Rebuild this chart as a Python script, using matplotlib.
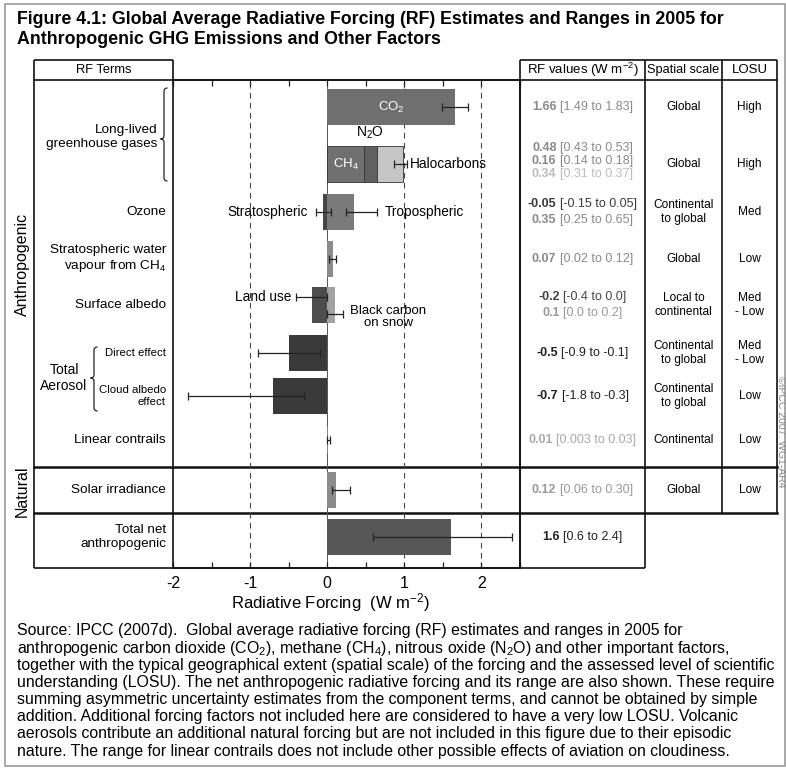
import matplotlib
matplotlib.use('Agg')
import matplotlib.pyplot as plt
from matplotlib.path import Path
from matplotlib.patches import PathPatch, Rectangle
import numpy as np

plt.rcParams['font.family'] = ['Liberation Sans', 'DejaVu Sans']
plt.rcParams['mathtext.fontset'] = 'custom'
plt.rcParams['mathtext.rm'] = 'Liberation Sans'
plt.rcParams['mathtext.it'] = 'Liberation Sans:italic'
plt.rcParams['mathtext.bf'] = 'Liberation Sans:bold'

# ---------------- data ----------------
row_terms = ['Long-lived\ngreenhouse gases', 'Ozone', 'Stratospheric water\nvapour from CH$_4$',
             'Surface albedo', 'Direct effect', 'Cloud albedo\neffect', 'Linear contrails',
             'Solar irradiance', 'Total net\nanthropogenic']

co2_value = 1.66
co2_range = [1.49, 1.83]
ghg_names = ['CH$_4$', 'N$_2$O', 'Halocarbons']
ghg_values = [0.48, 0.16, 0.34]
ghg_stack_range = [0.87, 1.04]
ozone_names = ['Stratospheric', 'Tropospheric']
ozone_values = [-0.05, 0.35]
ozone_low = [-0.15, 0.25]
ozone_high = [0.05, 0.65]
h2o_value = 0.07
h2o_range = [0.02, 0.12]
albedo_names = ['Land use', 'Black carbon\non snow']
albedo_values = [-0.2, 0.1]
albedo_low = [-0.4, 0.0]
albedo_high = [0.0, 0.2]
aerosol_values = [-0.5, -0.7]
aerosol_low = [-0.9, -1.8]
aerosol_high = [-0.1, -0.3]
contrail_value = 0.01
contrail_range = [0.003, 0.03]
solar_value = 0.12
solar_range = [0.06, 0.30]
total_value = 1.6
total_range = [0.6, 2.4]

rf_best_text = [['1.66'], ['0.48', '0.16', '0.34'], ['-0.05', '0.35'], ['0.07'], ['-0.2', '0.1'],
                ['-0.5'], ['-0.7'], ['0.01'], ['0.12'], ['1.6']]
rf_range_text = [['[1.49 to 1.83]'], ['[0.43 to 0.53]', '[0.14 to 0.18]', '[0.31 to 0.37]'],
                 ['[-0.15 to 0.05]', '[0.25 to 0.65]'], ['[0.02 to 0.12]'],
                 ['[-0.4 to 0.0]', '[0.0 to 0.2]'], ['[-0.9 to -0.1]'], ['[-1.8 to -0.3]'],
                 ['[0.003 to 0.03]'], ['[0.06 to 0.30]'], ['[0.6 to 2.4]']]
rf_text_colors = [['#8a8a8a'], ['#8a8a8a', '#8a8a8a', '#bdbdbd'], ['#3a3a3a', '#8a8a8a'],
                  ['#8a8a8a'], ['#444444', '#999999'], ['#222222'], ['#222222'],
                  ['#aaaaaa'], ['#999999'], ['#222222']]
# one entry per table row: CO2, other LLGHG, ozone, H2O, albedo, direct, cloud, contrails, solar
spatial_scale = ['Global', 'Global', 'Continental\nto global', 'Global', 'Local to\ncontinental',
                 'Continental\nto global', 'Continental\nto global', 'Continental', 'Global']
losu = ['High', 'High', 'Med', 'Low', 'Med\n- Low', 'Med\n- Low', 'Low', 'Low', 'Low']
x_ticks = [-2, -1, 0, 1, 2]

title_lines = ['Figure 4.1: Global Average Radiative Forcing (RF) Estimates and Ranges in 2005 for',
               'Anthropogenic GHG Emissions and Other Factors']
caption = [
    'Source: IPCC (2007d).  Global average radiative forcing (RF) estimates and ranges in 2005 for',
    'anthropogenic carbon dioxide (CO$_2$), methane (CH$_4$), nitrous oxide (N$_2$O) and other important factors,',
    'together with the typical geographical extent (spatial scale) of the forcing and the assessed level of scientific',
    'understanding (LOSU). The net anthropogenic radiative forcing and its range are also shown. These require',
    'summing asymmetric uncertainty estimates from the component terms, and cannot be obtained by simple',
    'addition. Additional forcing factors not included here are considered to have a very low LOSU. Volcanic',
    'aerosols contribute an additional natural forcing but are not included in this figure due to their episodic',
    'nature. The range for linear contrails does not include other possible effects of aviation on cloudiness.',
]

# ---------------- layout (pixels) ----------------
W, H = 786, 769
row_y = [107, 164, 212, 259, 305, 353, 396, 440, 490, 537]   # CO2 row + 9 term rows
bar_h = 36
X_TERMS_L, X_PLOT_L, X_PLOT_R = 34, 173, 520
X_COL2, X_COL3, X_TAB_R = 645, 722, 777
Y_HEAD_T, Y_HEAD_B, Y_NAT, Y_TOT, Y_BOT = 60, 80, 467, 513, 568

fig = plt.figure(figsize=(W / 100, H / 100), dpi=100)
fig.patch.set_facecolor('white')

ov = fig.add_axes([0, 0, 1, 1], zorder=0)
ov.set_xlim(0, W)
ov.set_ylim(H, 0)
ov.axis('off')

ax = fig.add_axes([X_PLOT_L / W, 1 - Y_BOT / H, (X_PLOT_R - X_PLOT_L) / W, (Y_BOT - Y_HEAD_B) / H], zorder=2)
ax.set_facecolor('none')
ax.set_xlim(-2, 2.5)
ax.set_ylim(Y_BOT, Y_HEAD_B)

# grid lines
for xv in [-1, 1, 2]:
    ax.axvline(xv, color='#444444', lw=0.8, ls=(0, (5, 4)), zorder=1)
ax.axvline(0, color='#555555', lw=0.7, zorder=1)

ek = dict(fmt='none', ecolor='#222222', elinewidth=0.9, capsize=3, capthick=0.9, zorder=5)
lab_fs = 9.8


def err(y, v, lo, hi):
    ax.errorbar([v], [y], xerr=[[v - lo], [hi - v]], **ek)


# CO2
ax.barh(row_y[0], co2_value, height=bar_h, color='#6f6f6f', zorder=3)
err(row_y[0], co2_value, *co2_range)
ax.text(co2_value / 2, row_y[0], 'CO$_2$', color='white', ha='center', va='center', fontsize=9.5, zorder=6)

# CH4 / N2O / halocarbons stacked
ghg_colors = ['#707070', '#606060', '#c6c6c6']
lefts = np.concatenate([[0], np.cumsum(ghg_values)[:-1]])
ax.barh([row_y[1]] * 3, ghg_values, left=lefts, height=bar_h, color=ghg_colors,
        edgecolor='#333333', linewidth=0.6, zorder=3)
stack_total = float(np.sum(ghg_values))
err(row_y[1], stack_total, *ghg_stack_range)
ax.text(ghg_values[0] / 2, row_y[1], ghg_names[0], color='white', ha='center', va='center', fontsize=9.5, zorder=6)
ax.text(lefts[1] + ghg_values[1] / 2, row_y[1] - 31, ghg_names[1], color='black', ha='center', va='center', fontsize=10)
ax.text(ghg_stack_range[1] + 0.03, row_y[1], ghg_names[2], ha='left', va='center', fontsize=lab_fs)

# ozone
ax.barh([row_y[2]] * 2, ozone_values, height=bar_h, color=['#474747', '#7a7a7a'], zorder=3)
for v, lo, hi in zip(ozone_values, ozone_low, ozone_high):
    err(row_y[2], v, lo, hi)
ax.text(ozone_low[0] - 0.1, row_y[2], ozone_names[0], ha='right', va='center', fontsize=lab_fs)
ax.text(ozone_high[1] + 0.09, row_y[2], ozone_names[1], ha='left', va='center', fontsize=lab_fs)

# strat water vapour
ax.barh(row_y[3], h2o_value, height=bar_h, color='#8c8c8c', zorder=3)
err(row_y[3], h2o_value, *h2o_range)

# surface albedo
ax.barh([row_y[4]] * 2, albedo_values, height=bar_h, color=['#4d4d4d', '#a2a2a2'], zorder=3)
err(row_y[4] - 8, albedo_values[0], albedo_low[0], albedo_high[0])
err(row_y[4] + 9, albedo_values[1], albedo_low[1], albedo_high[1])
ax.text(albedo_low[0] - 0.06, row_y[4] - 8, albedo_names[0], ha='right', va='center', fontsize=lab_fs)
ax.text(albedo_high[1] + 0.1, row_y[4] + 12, albedo_names[1], ha='left', va='center',
        multialignment='center', fontsize=9.5, linespacing=0.95)

# aerosols
for i in range(2):
    ax.barh(row_y[5 + i], aerosol_values[i], height=bar_h, color='#3a3a3a', zorder=3)
    err(row_y[5 + i], aerosol_values[i], aerosol_low[i], aerosol_high[i])

# contrails
ax.barh(row_y[7], contrail_value, height=26, color='#888888', zorder=3)
err(row_y[7], contrail_value, *contrail_range)

# solar
ax.barh(row_y[8], solar_value, height=bar_h, color='#8c8c8c', zorder=3)
err(row_y[8], solar_value, *solar_range)

# total
ax.barh(row_y[9], total_value, height=bar_h, color='#575757', zorder=3)
err(row_y[9], total_value, *total_range)

# axes styling
for s in ax.spines.values():
    s.set_color('#111111')
    s.set_linewidth(1.2)
ax.set_yticks([])
ax.set_xticks(x_ticks)
ax.set_xticklabels([str(t) for t in x_ticks], fontsize=11.5)
ax.set_xticks(np.arange(-2, 2.51, 0.5), minor=True)
ax.tick_params(axis='x', which='both', direction='in', length=4, top=True, bottom=True,
               width=0.9, color='#222222', pad=6)
ax.set_xlabel('Radiative Forcing  (W m$^{-2}$)', fontsize=12, labelpad=0)
ax.xaxis.label.set_x((330 - X_PLOT_L) / (X_PLOT_R - X_PLOT_L))

# ---------------- overlay: frames ----------------
lk = dict(color='#111111', lw=1.2, solid_capstyle='butt')
ov.add_patch(Rectangle((4.5, 3.5), 780, 762, fill=False, ec='#9a9a9a', lw=1.2))
ov.plot([X_TERMS_L, X_PLOT_L], [Y_HEAD_T, Y_HEAD_T], **lk)
ov.plot([X_TERMS_L, X_TERMS_L], [Y_HEAD_T, Y_BOT], **lk)
ov.plot([X_TERMS_L, X_TAB_R], [Y_HEAD_B, Y_HEAD_B], **lk)
ov.plot([X_PLOT_L, X_PLOT_L], [Y_HEAD_T, Y_HEAD_B], **lk)
ov.plot([X_PLOT_R, X_TAB_R], [Y_HEAD_T, Y_HEAD_T], **lk)
ov.plot([X_PLOT_R, X_PLOT_R], [Y_HEAD_T, Y_BOT], **lk)
ov.plot([X_COL2, X_COL2], [Y_HEAD_T, Y_BOT], **lk)
ov.plot([X_COL3, X_COL3], [Y_HEAD_T, Y_TOT], **lk)
ov.plot([X_TAB_R, X_TAB_R], [Y_HEAD_T, Y_TOT], **lk)
ov.plot([X_TERMS_L, X_COL2], [Y_BOT, Y_BOT], **lk)
ov.plot([X_TERMS_L, X_TAB_R], [Y_NAT, Y_NAT], color='#111111', lw=1.8)
ov.plot([X_TERMS_L, X_TAB_R], [Y_TOT, Y_TOT], color='#111111', lw=1.8)

# header text
ov.text((X_TERMS_L + X_PLOT_L) / 2, 70, 'RF Terms', ha='center', va='center', fontsize=9.3)
ov.text((X_PLOT_R + X_COL2) / 2, 70, 'RF values (W m$^{-2}$)', ha='center', va='center', fontsize=9.5)
ov.text((X_COL2 + X_COL3) / 2, 70, 'Spatial scale', ha='center', va='center', fontsize=9.2)
ov.text((X_COL3 + X_TAB_R) / 2, 70, 'LOSU', ha='center', va='center', fontsize=9.5)

# term labels
for i, term in enumerate(row_terms):
    y = row_y[i + 1]
    xr = 166
    if i == 0:
        y, xr = 137, 157
    fs = 8.2 if i in (4, 5) else 9.7
    ov.text(xr, y, term, ha='right', va='center', fontsize=fs, linespacing=1.15)

ov.text(64, 378, 'Total\nAerosol', ha='center', va='center', fontsize=10, linespacing=1.1)
ov.text(22, 264, 'Anthropogenic', rotation=90, ha='center', va='center', fontsize=11.5)
ov.text(22, 491, 'Natural', rotation=90, ha='center', va='center', fontsize=11.5)


def brace(x, y0, y1, ym, w):
    verts = [(x + w, y0), (x, y0), (x, y0 + w), (x, ym - w), (x, ym), (x - w, ym),
             (x, ym), (x, ym + w), (x, y1 - w), (x, y1), (x + w, y1)]
    codes = [Path.MOVETO, Path.CURVE3, Path.CURVE3, Path.LINETO, Path.CURVE3, Path.CURVE3,
             Path.CURVE3, Path.CURVE3, Path.LINETO, Path.CURVE3, Path.CURVE3]
    ov.add_patch(PathPatch(Path(verts, codes), fill=False, ec='#222222', lw=0.9))


brace(164, 88, 181, 139, 3.5)
brace(94, 347, 411, 378, 3.5)

# RF values cells: bold best estimate + regular range, centred together
renderer = fig.canvas.get_renderer()
cx = (X_PLOT_R + X_COL2) / 2
rf_fs = 9.0
gap = 3.5
for i in range(len(rf_best_text)):
    n = len(rf_best_text[i])
    offs = {1: [0], 2: [-8, 8], 3: [-16, -3, 10]}[n]
    for b, r, c, o in zip(rf_best_text[i], rf_range_text[i], rf_text_colors[i], offs):
        y = row_y[i] + o
        t1 = ov.text(0, y, b, ha='left', va='center', fontsize=rf_fs, fontweight='bold', color=c)
        t2 = ov.text(0, y, r, ha='left', va='center', fontsize=rf_fs, color=c)
        w1 = t1.get_window_extent(renderer).width
        w2 = t2.get_window_extent(renderer).width
        x0 = cx - (w1 + gap + w2) / 2
        t1.set_x(x0)
        t2.set_x(x0 + w1 + gap)

tk = dict(ha='center', va='center', fontsize=8.6, linespacing=1.15)
for i, (s, l) in enumerate(zip(spatial_scale, losu)):
    ov.text((X_COL2 + X_COL3) / 2, row_y[i], s, **tk)
    ov.text((X_COL3 + X_TAB_R) / 2, row_y[i], l, **tk)

ov.text(781, 432, '\u00a9IPCC 2007: WG1-AR4', rotation=-90, ha='center', va='center',
        fontsize=7.5, color='#888888')

# title and caption
ov.text(17, 19, title_lines[0], ha='left', va='center', fontsize=12.8, fontweight='bold')
ov.text(17, 40, title_lines[1], ha='left', va='center', fontsize=12.8, fontweight='bold')
for k, line in enumerate(caption):
    ov.text(17, 631 + k * 17.15, line, ha='left', va='center', fontsize=11.4)

fig.savefig('out.png', dpi=100, facecolor='white')
